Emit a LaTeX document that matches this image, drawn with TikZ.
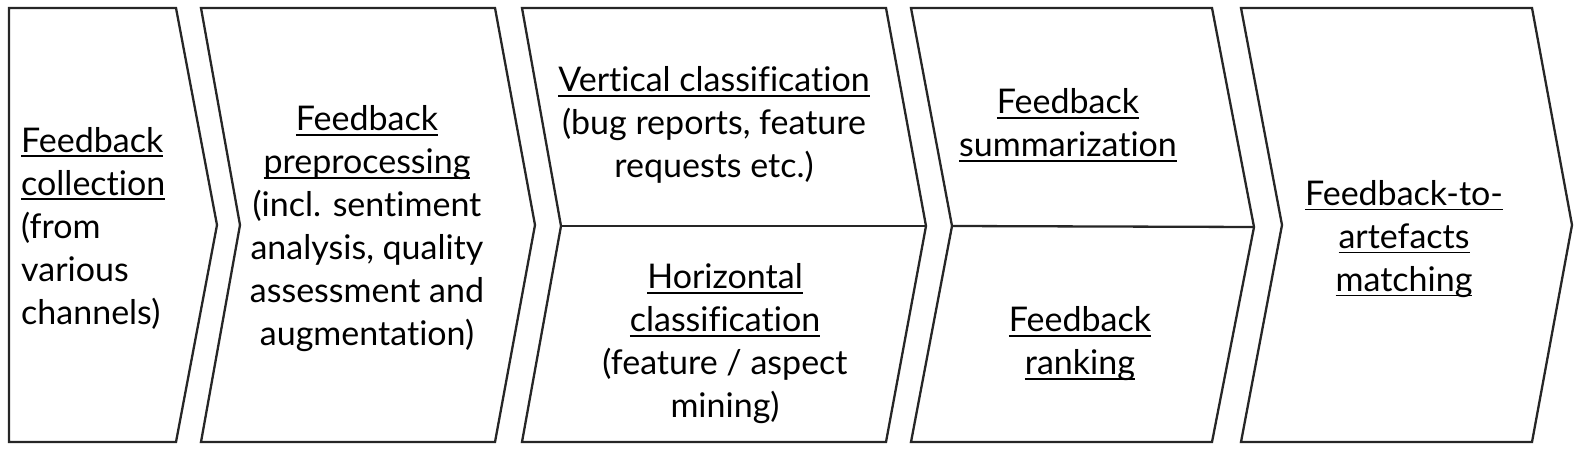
\documentclass[tikz,border=0pt]{standalone}
\usepackage{fontspec}
\setmainfont[Ligatures=NoCommon]{Lato}
\newcommand{\myul}[1]{\setbox0\hbox{#1}\rlap{\rule[-5pt]{\wd0}{1.8pt}}\box0}
\definecolor{edge}{RGB}{38,38,38}
\tikzset{
  stage/.style={draw=edge, line width=2.3pt, line join=miter},
  txt/.style={inner sep=0pt, align=center, font=\fontsize{34}{43}\selectfont, text=black},
}
\begin{document}
\begin{tikzpicture}[x=1pt,y=-1pt]
\useasboundingbox (0,0) rectangle (1578,457);
% stage outlines
\draw[stage] (9,8) -- (176,8) -- (217,225) -- (176,442) -- (9,442) -- cycle;
\draw[stage] (201,8) -- (495,8) -- (535,225) -- (495,442) -- (201,442) -- (240,225) -- cycle;
\draw[stage] (522,8) -- (886,8) -- (926,226) -- (886,442) -- (522,442) -- (561,226) -- cycle;
\coordinate (n3) at (561,226); \coordinate (p3) at (926,226);
\draw[stage] (n3) -- (p3);
\draw[stage] (911,8) -- (1212,8) -- (1254,227) -- (1212,442) -- (911,442) -- (952,226) -- cycle;
\coordinate (n4) at (952,226); \coordinate (p4) at (1254,227);
\draw[stage] (n4) -- (p4);
\draw[stage] (1241,8) -- (1532,8) -- (1572,225) -- (1532,442) -- (1241,442) -- (1282,225) -- cycle;
% texts
\node[txt, align=left, anchor=west] (t1) at (21,228) {\myul{Feedback}\\\myul{collection}\\(from\\various\\channels)};
\node[txt] (t2) at (367,229) {\myul{Feedback}\\\myul{preprocessing}\\(incl. sentiment\\analysis, quality\\assessment and\\augmentation)};
\node[txt] (t3a) at (714,125) {\myul{Vertical classification}\\(bug reports, feature\\requests etc.)};
\node[txt] (t3b) at (725,344) {\myul{Horizontal}\\\myul{classification}\\(feature / aspect\\mining)};
\node[txt] (t4a) at (1068,125) {\myul{Feedback}\\\myul{summarization}};
\node[txt] (t4b) at (1080,344) {\myul{Feedback}\\\myul{ranking}};
\node[txt] (t5) at (1404,239) {\myul{Feedback-to-}\\\myul{artefacts}\\\myul{matching}};
\end{tikzpicture}
\end{document}
